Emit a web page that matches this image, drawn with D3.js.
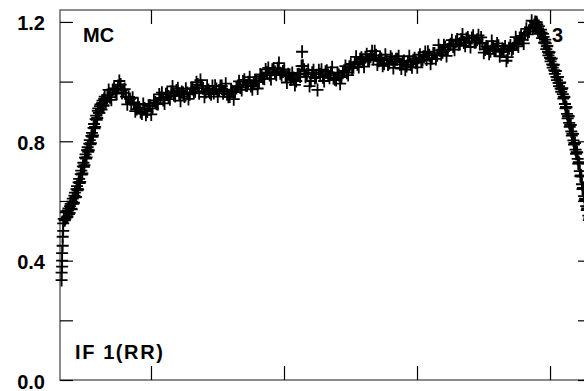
<!DOCTYPE html>
<html><head><meta charset="utf-8">
<script src="https://cdn.jsdelivr.net/npm/d3@7"></script>
<style>
html,body{margin:0;padding:0;background:#fff;}
svg{display:block;}
text{font-family:"Liberation Sans",Arial,sans-serif;font-weight:bold;fill:#000;}
</style></head>
<body>
<svg id="c" width="584" height="391"></svg>
<script>
// ---- data ----
// first block of observations
const phase = [
0.082,0.082,0.083,0.083,0.083,0.084,0.084,0.085,0.085,0.086,
0.088,0.090,0.092,0.094,0.096,0.098,0.100,0.102,0.104,0.106,0.108,0.110,0.112,0.114,0.116,0.118,0.120,0.122,0.124,0.126,0.128,0.130,0.132,0.134,0.136,0.138,0.140,0.142,0.144,0.146,0.148,0.150,0.152,0.154,0.156,0.158,0.160,0.162,0.164,
0.168,0.173,0.178,0.183,0.188,0.193,0.198,0.203,0.208,0.213,0.218,0.223,0.228,0.233,0.238,0.243,0.248,0.253,0.258,0.263,0.268,0.273,0.278,0.283,0.288,0.293,0.298,0.303,0.308,0.313,0.318,0.323,0.328,0.333,0.338,0.343,0.348,0.353,0.358,0.363,0.368,0.373,0.378,0.383,0.388,0.393,0.398,0.403,0.408,0.413,0.418,0.423,0.428,0.433,0.438,0.443,0.448,0.453,0.458,0.463,0.468,0.473,0.478,0.483,0.488,0.493,0.498,0.503,0.508,0.513,0.518,0.523,0.528,0.533,0.534,0.538,0.543,0.548,0.553,0.558,0.563,0.568,0.573,0.578,0.583,0.588,0.593,0.598,0.603,0.608,0.613,0.618,0.623,0.628,0.633,0.638,0.643,0.648,0.653,0.658,0.663,0.668,0.673,0.678,0.683,0.688,0.693,0.698,0.703,0.708,0.713,0.718,0.723,0.728,0.733,0.738,0.743,0.748,0.753,0.758,0.763,0.768,0.773,0.778,0.783,0.788,0.793,0.798,0.803,0.808,0.813,0.818,0.823,0.828,0.833,0.838,0.843,0.848,0.853,0.858,0.863,0.868,0.873,0.878,0.883,0.888,0.893,0.898,0.903,0.908,0.913,0.918,0.923,0.928,0.933,0.938,0.943,0.948,0.953,0.958,0.963,0.968,
0.972,0.976,0.980,0.984,0.988,0.990,0.992,0.994,0.996,0.998,1.000,1.002,1.004,1.006,1.008,1.010,1.012,1.014,1.016,1.018,1.020,1.022,1.024,1.026,1.028,1.030,1.032,1.034,1.036,1.038,1.040,1.042,1.044,1.046,1.048,1.050,1.052,1.054,1.056,1.058,1.060,1.062,1.064,1.066,1.068,1.070,1.072,1.074
];
const flux = [
0.335,0.360,0.380,0.400,0.425,0.450,0.480,0.500,0.525,0.540,
0.535,0.562,0.545,0.568,0.556,0.583,0.574,0.598,0.590,0.618,0.612,0.640,0.636,0.662,0.660,0.690,0.688,0.716,0.714,0.745,0.742,0.770,0.765,0.792,0.790,0.818,0.815,0.845,0.843,0.874,0.872,0.902,0.895,0.918,0.908,0.928,0.920,0.942,0.935,
0.955,0.948,0.972,0.965,0.985,0.990,0.972,0.950,0.948,0.925,0.930,0.908,0.912,0.893,0.910,0.900,0.920,0.910,0.930,0.925,0.945,0.938,0.958,0.950,0.965,0.955,0.970,0.958,0.965,0.950,0.962,0.958,0.975,0.968,0.990,1.005,0.978,0.965,0.972,0.958,0.962,0.975,0.970,0.985,0.968,0.958,0.950,0.968,0.965,0.985,0.980,1.000,0.988,0.998,0.985,0.995,1.004,0.998,1.018,1.010,1.030,1.022,1.040,1.032,1.045,1.028,1.034,1.018,1.025,1.008,1.012,1.002,1.025,1.052,1.100,1.040,1.025,0.985,1.030,1.012,0.972,1.025,1.015,1.033,1.022,1.030,1.012,1.005,1.022,1.015,1.036,1.030,1.050,1.045,1.064,1.058,1.075,1.067,1.082,1.072,1.085,1.076,1.088,1.070,1.076,1.060,1.072,1.062,1.076,1.068,1.075,1.058,1.065,1.040,1.066,1.058,1.072,1.064,1.080,1.070,1.083,1.074,1.088,1.078,1.094,1.088,1.105,1.098,1.116,1.108,1.125,1.118,1.134,1.125,1.140,1.131,1.144,1.135,1.146,1.132,1.140,1.127,1.130,1.108,1.112,1.102,1.118,1.108,1.120,1.100,1.108,1.070,1.112,1.106,1.128,1.124,1.146,1.140,1.163,1.158,1.182,1.180,
1.200,1.192,1.168,1.164,1.150,1.132,1.128,1.118,1.100,1.096,1.080,1.076,1.058,1.055,1.038,1.035,1.016,1.014,0.996,0.995,0.977,0.975,0.958,0.950,0.925,0.915,0.892,0.884,0.862,0.855,0.833,0.826,0.803,0.795,0.772,0.764,0.741,0.730,0.700,0.686,0.656,0.644,0.616,0.608,0.583,0.575,0.551,0.542
];
// second block of observations
const phase2 = [
0.089,0.091,0.093,0.095,0.097,0.099,0.101,0.103,0.105,0.107,0.109,0.111,0.113,0.115,0.117,0.119,0.121,0.123,0.125,0.127,0.129,0.131,0.133,0.135,0.137,0.139,0.141,0.143,0.145,0.147,0.149,0.151,0.153,0.155,0.157,0.159,0.161,0.163,0.165,
0.1705,0.1755,0.1805,0.1855,0.1905,0.1955,0.2005,0.2055,0.2105,0.2155,0.2205,0.2255,0.2305,0.2355,0.2405,0.2455,0.2505,0.2555,0.2605,0.2655,
0.2705,0.2755,0.2805,0.2855,0.2905,0.2955,0.3005,0.3055,0.3105,0.3155,0.3205,0.3255,0.3305,0.3355,0.3405,0.3455,0.3505,0.3555,0.3605,0.3655,
0.3705,0.3755,0.3805,0.3855,0.3905,0.3955,0.4005,0.4055,0.4105,0.4155,0.4205,0.4255,0.4305,0.4355,0.4405,0.4455,0.4505,0.4555,0.4605,0.4655,
0.4705,0.4755,0.4805,0.4855,0.4905,0.4955,0.5005,0.5055,0.5105,0.5155,0.5205,0.5255,0.5305,0.5355,0.5405,0.5455,0.5505,0.5555,0.5605,0.5655,
0.5705,0.5755,0.5805,0.5855,0.5905,0.5955,0.6005,0.6055,0.6105,0.6155,0.6205,0.6255,0.6305,0.6355,0.6405,0.6455,0.6505,0.6555,0.6605,0.6655,
0.6705,0.6755,0.6805,0.6855,0.6905,0.6955,0.7005,0.7055,0.7105,0.7155,0.7205,0.7255,0.7305,0.7355,0.7405,0.7455,0.7505,0.7555,0.7605,0.7655,
0.7705,0.7755,0.7805,0.7855,0.7905,0.7955,0.8005,0.8055,0.8105,0.8155,0.8205,0.8255,0.8305,0.8355,0.8405,0.8455,0.8505,0.8555,0.8605,0.8655,
0.8705,0.8755,0.8805,0.8855,0.8905,0.8955,0.9005,0.9055,0.9105,0.9155,0.9205,0.9255,0.9305,0.9355,0.9405,0.9455,0.9505,0.9555,0.9605,0.9655,0.9705,
0.973,0.975,0.977,0.979,0.981,0.983,0.985,0.987,0.989,0.991,0.993,0.995,0.997,0.999,1.001,1.003,1.005,1.007,1.009,1.011,1.013,1.015,1.017,1.019,1.021,1.023,1.025,1.027,1.029,1.031,1.033,1.035,1.037,1.039,1.041,1.043,1.045,1.047,1.049,1.051,1.053,1.055,1.057,1.059,1.061,1.063,1.065,1.067,1.069,1.071,1.073
];
const flux2 = [
0.540,0.566,0.548,0.575,0.560,0.590,0.572,0.608,0.594,0.628,0.614,0.650,0.640,0.674,0.664,0.702,0.692,0.728,0.720,0.756,0.746,0.780,0.770,0.804,0.794,0.828,0.820,0.858,0.848,0.886,0.878,0.910,0.895,0.924,0.906,0.936,0.920,0.950,0.932,
0.972,0.939,0.977,0.960,1.002,0.962,0.975,0.924,0.942,0.946,0.901,0.923,0.898,0.925,0.889,0.919,0.890,0.937,0.926,0.957,
0.963,0.927,0.961,0.941,0.984,0.952,0.978,0.936,0.962,0.976,0.942,0.977,0.964,0.998,0.961,0.986,0.949,0.986,0.963,0.985,
0.986,0.950,0.985,0.961,0.993,0.949,0.973,0.941,0.979,1.001,0.972,1.006,0.987,1.015,0.974,1.003,0.977,1.024,1.011,1.041,
1.046,1.009,1.043,1.023,1.062,1.022,1.041,0.997,1.021,1.029,0.989,1.024,1.017,1.053,1.016,1.039,1.002,1.038,1.015,1.038,
1.040,1.002,1.036,1.013,1.048,1.008,1.029,0.993,1.030,1.052,1.022,1.059,1.048,1.083,1.049,1.080,1.050,1.092,1.075,1.102,
1.102,1.057,1.081,1.053,1.090,1.057,1.083,1.046,1.075,1.085,1.044,1.069,1.052,1.085,1.048,1.078,1.048,1.090,1.073,1.099,
1.100,1.060,1.094,1.076,1.122,1.092,1.122,1.086,1.121,1.139,1.107,1.141,1.127,1.158,1.120,1.148,1.116,1.154,1.133,1.155,
1.148,1.097,1.118,1.093,1.136,1.104,1.128,1.085,1.109,1.118,1.082,1.121,1.112,1.149,1.118,1.153,1.128,1.177,1.168,1.204,1.190,
1.184,1.199,1.172,1.186,1.160,1.174,1.146,1.160,1.130,1.141,1.109,1.120,1.088,1.099,1.068,1.078,1.047,1.057,1.026,1.036,1.005,1.016,0.985,0.997,0.966,0.978,0.943,0.948,0.910,0.914,0.877,0.884,0.848,0.855,0.819,0.825,0.789,0.794,0.758,0.763,0.725,0.726,0.683,0.682,0.640,0.641,0.602,0.606,0.569,0.574,0.536
];
const yTicks = [0, 0.2, 0.4, 0.6, 0.8, 1.0, 1.2];
const yLabelled = [0, 0.4, 0.8, 1.2];
const xTicks = [0.25, 0.5, 0.75, 1.0];
const labelTopLeft = "MC";
const labelBottomLeft = "IF 1(RR)";
const labelTopRight = "3";

// ---- drawing ----
const svg = d3.select("#c");
const x = d3.scaleLinear().domain([0.079, 1.077]).range([60, 591]);
const y = d3.scaleLinear().domain([0, 1.24]).range([380, 10]);

// frame
svg.append("rect").attr("x", 60).attr("y", 10).attr("width", 531).attr("height", 370)
  .attr("fill", "none").attr("stroke", "#666").attr("stroke-width", 1.5);

const tickStyle = g => { g.select(".domain").remove(); g.selectAll(".tick line").attr("stroke", "#000").attr("stroke-width", 1.2); };

svg.append("g").attr("transform", "translate(60,0)")
  .call(d3.axisLeft(y).tickValues(yTicks).tickSize(-13).tickPadding(15)
    .tickFormat(d => yLabelled.some(v => Math.abs(v - d) < 1e-9) ? d3.format(".1f")(d) : ""))
  .call(tickStyle)
  .call(g => g.selectAll(".tick text").attr("dy", "0.4em")
    .style("font-family", "Liberation Sans, Arial, sans-serif").style("font-weight", "bold")
    .style("font-size", "20px").attr("fill", "#000"));

svg.append("g").attr("transform", "translate(591,0)")
  .call(d3.axisRight(y).tickValues(yTicks).tickSize(-13).tickFormat(""))
  .call(tickStyle);

svg.append("g").attr("transform", "translate(0,380)")
  .call(d3.axisBottom(x).tickValues(xTicks).tickSize(-14).tickFormat(""))
  .call(tickStyle);

svg.append("g").attr("transform", "translate(0,10)")
  .call(d3.axisTop(x).tickValues(xTicks).tickSize(-14).tickFormat(""))
  .call(tickStyle);

// data markers (+)
const pts = phase.map((p, i) => [p, flux[i]]).concat(phase2.map((p, i) => [p, flux2[i]]));
svg.append("g").selectAll("path").data(pts).join("path")
  .attr("d", d => {
    const cx = x(d[0]), cy = y(d[1]);
    return `M${cx - 6},${cy}h12M${cx},${cy - 6.5}v13`;
  })
  .attr("stroke", "#000").attr("stroke-width", 1.8).attr("fill", "none");

// labels
svg.append("text").attr("x", 83).attr("y", 42).attr("font-size", 20).text(labelTopLeft);
svg.append("text").attr("x", 75).attr("y", 359).attr("font-size", 20).attr("letter-spacing", 1.6).text(labelBottomLeft);
svg.append("text").attr("x", 552).attr("y", 42).attr("font-size", 20).text(labelTopRight);
</script>
</body></html>
